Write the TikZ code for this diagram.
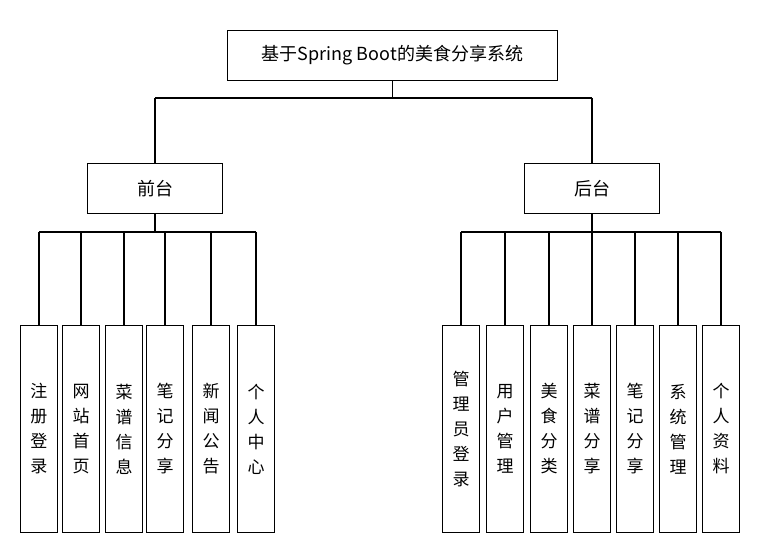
\documentclass[tikz,border=0pt]{standalone}
\usepackage{fontspec}
\setmainfont{Noto Sans CJK SC}
\begin{document}
\begin{tikzpicture}[x=1pt,y=-1pt,
  box/.style={draw,line width=1pt,rectangle,inner sep=0pt,anchor=north west,font=\fontsize{18}{20}\selectfont},
  leaf/.style={draw,line width=1pt,rectangle,inner sep=0pt,anchor=north,minimum width=37pt,minimum height=207pt,align=center,font=\fontsize{17}{25}\selectfont},
  ln/.style={line width=1.6pt}]
\useasboundingbox[fill=white] (0,0) rectangle (764,548);
\node[box,minimum width=330pt,minimum height=50pt] (root) at (227,30) {基于Spring Boot的美食分享系统};
\node[box,minimum width=135pt,minimum height=50pt] (ft) at (87,163) {前台};
\node[box,minimum width=135pt,minimum height=50pt] (bt) at (524,163) {后台};
\draw[ln] (root.south) -- (root.south |- 0,98);
\draw[ln] (155,98) -- (592,98);
\draw[ln] (155,98) -- (ft.north);
\draw[ln] (592,98) -- (bt.north);
\foreach \n/\x/\t in {l1/39/注\\册\\登\\录,l2/81/网\\站\\首\\页,l3/124/菜\\谱\\信\\息,l4/165/笔\\记\\分\\享,l5/211/新\\闻\\公\\告,l6/256/个\\人\\中\\心}{
  \node[leaf] (\n) at (\x,325) {\t};
  \draw[ln] (\x,232) -- (\n.north);
}
\draw[ln] (ft.south) -- (155,232);
\draw[ln] (39,232) -- (256,232);
\foreach \n/\x/\t in {r1/461/管\\理\\员\\登\\录,r2/505/用\\户\\管\\理,r3/549/美\\食\\分\\类,r4/592/菜\\谱\\分\\享,r5/635/笔\\记\\分\\享,r6/678/系\\统\\管\\理,r7/721/个\\人\\资\\料}{
  \node[leaf] (\n) at (\x,325) {\t};
  \draw[ln] (\x,232) -- (\n.north);
}
\draw[ln] (bt.south) -- (592,232);
\draw[ln] (461,232) -- (721,232);
\end{tikzpicture}
\end{document}
